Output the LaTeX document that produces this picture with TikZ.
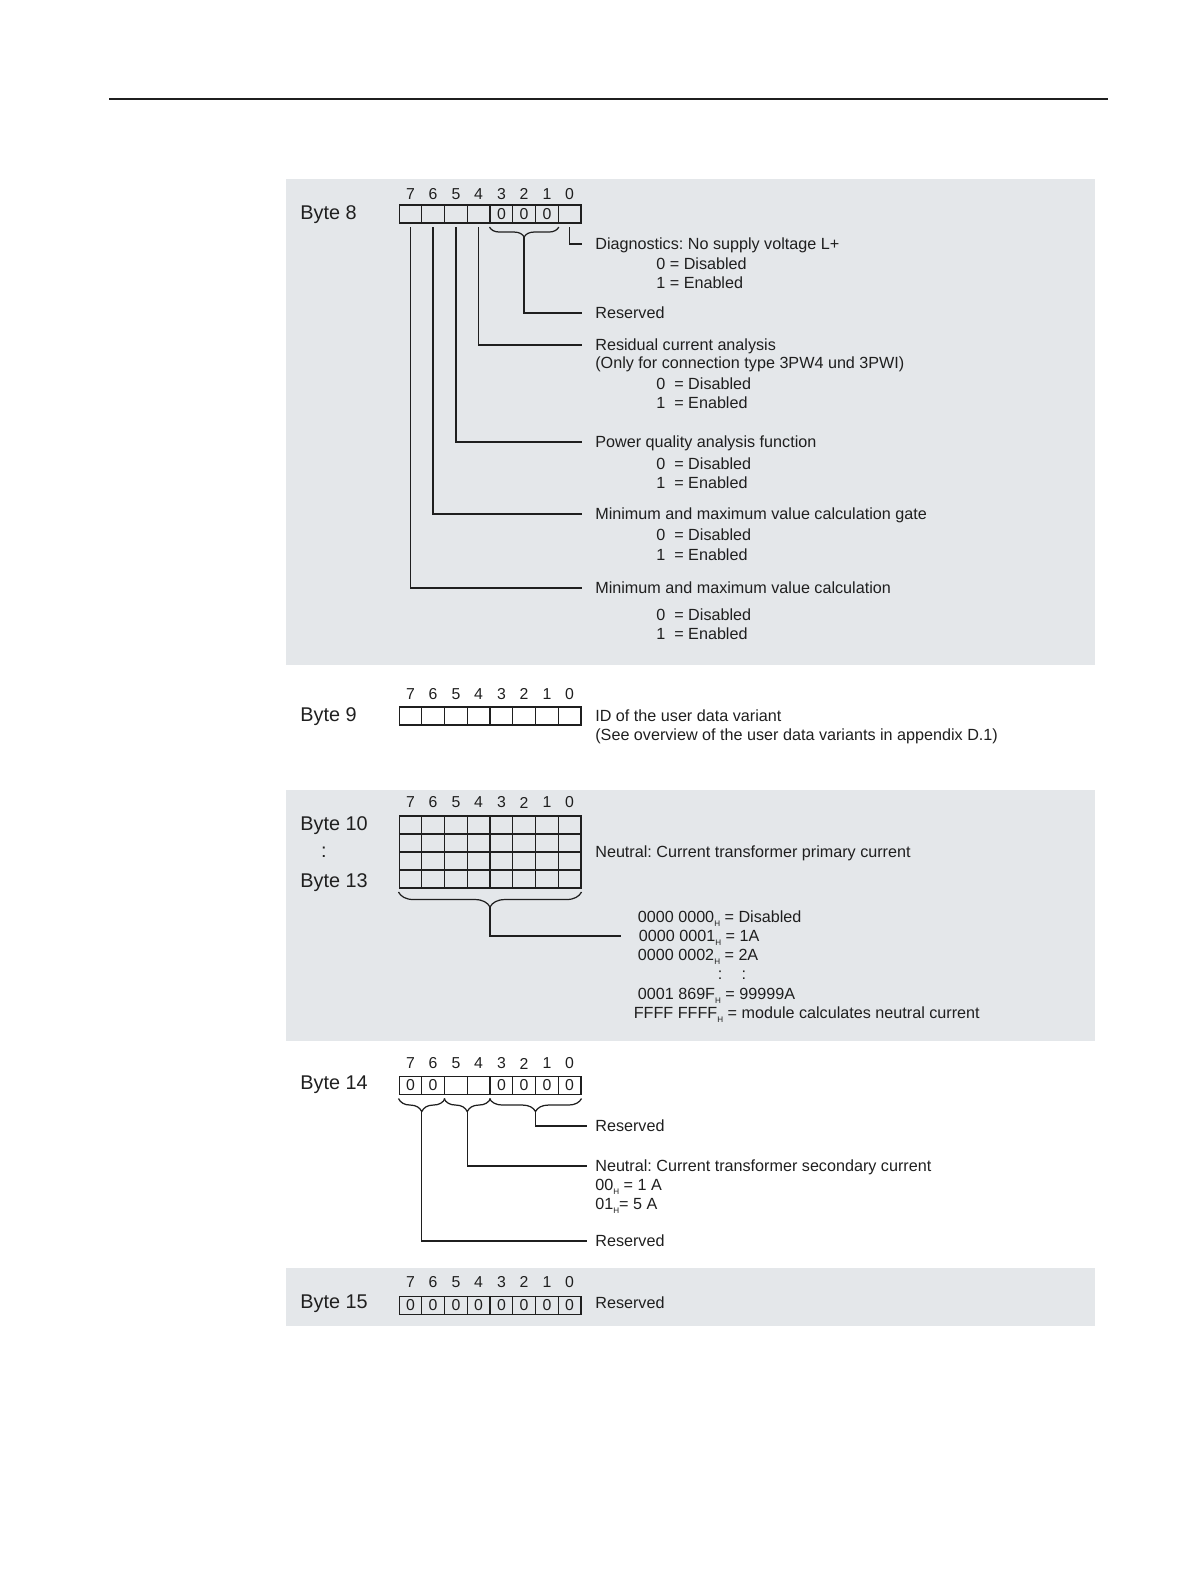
\documentclass[tikz,border=0pt]{standalone}
\usepackage{fontspec}
\setmainfont{Liberation Sans}
\usepackage{xcolor}
\usepackage{tikz}
\usetikzlibrary{decorations.pathreplacing}
\definecolor{panel}{RGB}{228,231,234}
\newcommand{\hexsub}{\raisebox{-2.2pt}{\fontsize{4.6}{5}\selectfont H}}
\frenchspacing

\begin{document}
\begin{tikzpicture}[x=0.02cm, y=-0.02cm, color=black!88,
  cell/.style={draw, line width=0.6pt, minimum width=0.455cm, minimum height=0.36cm, inner sep=0pt, font=\fontsize{9}{10}\selectfont},
  bitno/.style={inner sep=0pt, font=\fontsize{9}{10}\selectfont},
  bytelbl/.style={anchor=west, inner sep=0pt, text height=8.1pt, text depth=0pt, font=\fontsize{11.3}{13}\selectfont},
  txt/.style={anchor=west, inner sep=0pt, text height=6.6pt, text depth=0pt, font=\fontsize{9.2}{11}\selectfont},
  wire/.style={line width=0.85pt},
  brc/.style={line width=0.7pt, decorate, decoration={brace, mirror, amplitude=#1}}, brc/.default=0.2cm]
  \useasboundingbox (0,0) rectangle (1191,1587);
  \draw[line width=0.6pt] (109,99) -- (1108,99);
  \fill[panel] (286,179) rectangle (1095,665);
  \fill[panel] (286,790) rectangle (1095,1041);
  \fill[panel] (286,1268) rectangle (1095,1326);
  \node[bytelbl] (byte8) at (300,212.5) {Byte 8};
  \node[bitno] (b8n7) at (410.4,194) {7};
  \node[bitno] (b8n6) at (433.1,194) {6};
  \node[bitno] (b8n5) at (455.9,194) {5};
  \node[bitno] (b8n4) at (478.6,194) {4};
  \node[bitno] (b8n3) at (501.4,194) {3};
  \node[bitno] (b8n2) at (524.1,194) {2};
  \node[bitno] (b8n1) at (546.9,194) {1};
  \node[bitno] (b8n0) at (569.6,194) {0};
  \node[cell] (b8c7) at (410.4,214) {};
  \node[cell] (b8c6) at (433.1,214) {};
  \node[cell] (b8c5) at (455.9,214) {};
  \node[cell] (b8c4) at (478.6,214) {};
  \node[cell] (b8c3) at (501.4,214) {0};
  \node[cell] (b8c2) at (524.1,214) {0};
  \node[cell] (b8c1) at (546.9,214) {0};
  \node[cell] (b8c0) at (569.6,214) {};
  \node[txt] (diag) at (595,244) {Diagnostics: No supply voltage L+};
  \node[txt] (diag0) at (656,264) {0 = Disabled};
  \node[txt] (diag1) at (656,283) {1 = Enabled};
  \node[txt] (res8) at (595,313) {Reserved};
  \node[txt] (rca) at (595,345) {Residual current analysis};
  \node[txt] (rcanote) at (595,363) {(Only for connection type 3PW4 und 3PWI)};
  \node[txt] (rca0) at (656,384) {0~~= Disabled};
  \node[txt] (rca1) at (656,403) {1~~= Enabled};
  \node[txt] (pqa) at (595,442) {Power quality analysis function};
  \node[txt] (pqa0) at (656,463.5) {0~~= Disabled};
  \node[txt] (pqa1) at (656,483) {1~~= Enabled};
  \node[txt] (gate) at (595,514) {Minimum and maximum value calculation gate};
  \node[txt] (gate0) at (656,535) {0~~= Disabled};
  \node[txt] (gate1) at (656,555) {1~~= Enabled};
  \node[txt] (minmax) at (595,588) {Minimum and maximum value calculation};
  \node[txt] (minmax0) at (656,615) {0~~= Disabled};
  \node[txt] (minmax1) at (656,634) {1~~= Enabled};
  \draw[brc] ([yshift=-2pt]b8c3.south west) -- ([yshift=-2pt]b8c1.south east);
  \coordinate (b8br) at (524.1,237);
  \draw[wire, shorten <=2pt, shorten >=0.26cm] (b8c0.south) |- (diag.west);
  \draw[wire, shorten >=0.26cm] (b8br) |- (res8.west);
  \draw[wire, shorten <=2pt, shorten >=0.26cm] (b8c4.south) |- (rca.west);
  \draw[wire, shorten <=2pt, shorten >=0.26cm] (b8c5.south) |- (pqa.west);
  \draw[wire, shorten <=2pt, shorten >=0.26cm] (b8c6.south) |- (gate.west);
  \draw[wire, shorten <=2pt, shorten >=0.26cm] (b8c7.south) |- (minmax.west);
  \node[bytelbl] (byte9) at (300,714.5) {Byte 9};
  \node[bitno] (b9n7) at (410.4,694) {7};
  \node[bitno] (b9n6) at (433.1,694) {6};
  \node[bitno] (b9n5) at (455.9,694) {5};
  \node[bitno] (b9n4) at (478.6,694) {4};
  \node[bitno] (b9n3) at (501.4,694) {3};
  \node[bitno] (b9n2) at (524.1,694) {2};
  \node[bitno] (b9n1) at (546.9,694) {1};
  \node[bitno] (b9n0) at (569.6,694) {0};
  \node[cell] (b9c7) at (410.4,716) {};
  \node[cell] (b9c6) at (433.1,716) {};
  \node[cell] (b9c5) at (455.9,716) {};
  \node[cell] (b9c4) at (478.6,716) {};
  \node[cell] (b9c3) at (501.4,716) {};
  \node[cell] (b9c2) at (524.1,716) {};
  \node[cell] (b9c1) at (546.9,716) {};
  \node[cell] (b9c0) at (569.6,716) {};
  \node[txt] (udv) at (595,715.5) {ID of the user data variant};
  \node[txt] (udvnote) at (595,735) {(See overview of the user data variants in appendix D.1)};
  \node[bytelbl] (byte10) at (300,823) {Byte 10};
  \node[bytelbl, anchor=center] (byte11) at (324,850) {:};
  \node[bytelbl] (byte13) at (300,880) {Byte 13};
  \node[bitno] (b10n7) at (410.4,802.5) {7};
  \node[bitno] (b10n6) at (433.1,802.5) {6};
  \node[bitno] (b10n5) at (455.9,802.5) {5};
  \node[bitno] (b10n4) at (478.6,802.5) {4};
  \node[bitno] (b10n3) at (501.4,802.5) {3};
  \node[bitno] (b10n2) at (524.1,802.5) {2};
  \node[bitno] (b10n1) at (546.9,802.5) {1};
  \node[bitno] (b10n0) at (569.6,802.5) {0};
  \node[cell] (b10r1c7) at (410.4,825) {};
  \node[cell] (b10r1c6) at (433.1,825) {};
  \node[cell] (b10r1c5) at (455.9,825) {};
  \node[cell] (b10r1c4) at (478.6,825) {};
  \node[cell] (b10r1c3) at (501.4,825) {};
  \node[cell] (b10r1c2) at (524.1,825) {};
  \node[cell] (b10r1c1) at (546.9,825) {};
  \node[cell] (b10r1c0) at (569.6,825) {};
  \node[cell] (b10r2c7) at (410.4,843) {};
  \node[cell] (b10r2c6) at (433.1,843) {};
  \node[cell] (b10r2c5) at (455.9,843) {};
  \node[cell] (b10r2c4) at (478.6,843) {};
  \node[cell] (b10r2c3) at (501.4,843) {};
  \node[cell] (b10r2c2) at (524.1,843) {};
  \node[cell] (b10r2c1) at (546.9,843) {};
  \node[cell] (b10r2c0) at (569.6,843) {};
  \node[cell] (b10r3c7) at (410.4,861) {};
  \node[cell] (b10r3c6) at (433.1,861) {};
  \node[cell] (b10r3c5) at (455.9,861) {};
  \node[cell] (b10r3c4) at (478.6,861) {};
  \node[cell] (b10r3c3) at (501.4,861) {};
  \node[cell] (b10r3c2) at (524.1,861) {};
  \node[cell] (b10r3c1) at (546.9,861) {};
  \node[cell] (b10r3c0) at (569.6,861) {};
  \node[cell] (b10r4c7) at (410.4,879) {};
  \node[cell] (b10r4c6) at (433.1,879) {};
  \node[cell] (b10r4c5) at (455.9,879) {};
  \node[cell] (b10r4c4) at (478.6,879) {};
  \node[cell] (b10r4c3) at (501.4,879) {};
  \node[cell] (b10r4c2) at (524.1,879) {};
  \node[cell] (b10r4c1) at (546.9,879) {};
  \node[cell] (b10r4c0) at (569.6,879) {};
  \node[txt] (primary) at (595,852) {Neutral: Current transformer primary current};
  \node[txt] (v0) at (637.5,917) {0000 0000\hexsub{} = Disabled};
  \node[txt] (v1) at (638.6,936) {0000 0001\hexsub{} = 1A};
  \node[txt] (v2) at (637.5,955) {0000 0002\hexsub{} = 2A};
  \node[txt, anchor=center] (vdots) at (732,974) {:\hspace{11pt}:};
  \node[txt] (v3) at (637.5,994) {0001 869F\hexsub{} = 99999A};
  \node[txt] (v4) at (633.5,1013) {FFFF FFFF\hexsub{} = module calculates neutral current};
  \draw[brc=0.3cm] ([yshift=-2pt]b10r4c7.south west) -- ([yshift=-2pt]b10r4c0.south east);
  \coordinate (b10br) at (490,906);
  \draw[wire, shorten >=0.35cm] (b10br) |- (v1.west);
  \node[bytelbl] (byte14) at (300,1082) {Byte 14};
  \node[bitno] (b14n7) at (410.4,1063.5) {7};
  \node[bitno] (b14n6) at (433.1,1063.5) {6};
  \node[bitno] (b14n5) at (455.9,1063.5) {5};
  \node[bitno] (b14n4) at (478.6,1063.5) {4};
  \node[bitno] (b14n3) at (501.4,1063.5) {3};
  \node[bitno] (b14n2) at (524.1,1063.5) {2};
  \node[bitno] (b14n1) at (546.9,1063.5) {1};
  \node[bitno] (b14n0) at (569.6,1063.5) {0};
  \node[cell] (b14c7) at (410.4,1085.5) {0};
  \node[cell] (b14c6) at (433.1,1085.5) {0};
  \node[cell] (b14c5) at (455.9,1085.5) {};
  \node[cell] (b14c4) at (478.6,1085.5) {};
  \node[cell] (b14c3) at (501.4,1085.5) {0};
  \node[cell] (b14c2) at (524.1,1085.5) {0};
  \node[cell] (b14c1) at (546.9,1085.5) {0};
  \node[cell] (b14c0) at (569.6,1085.5) {0};
  \node[txt] (res14lo) at (595,1126) {Reserved};
  \node[txt] (secondary) at (595,1166) {Neutral: Current transformer secondary current};
  \node[txt] (sec1a) at (595,1185) {00\hexsub{} = 1 A};
  \node[txt] (sec5a) at (595,1204) {01\hexsub{}= 5 A};
  \node[txt] (res14hi) at (595,1241) {Reserved};
  \draw[brc=0.26cm] ([yshift=-2pt]b14c7.south west) -- ([yshift=-2pt]b14c6.south east);
  \draw[brc=0.26cm] ([yshift=-2pt]b14c5.south west) -- ([yshift=-2pt]b14c4.south east);
  \draw[brc=0.26cm] ([yshift=-2pt]b14c3.south west) -- ([yshift=-2pt]b14c0.south east);
  \coordinate (b14hi) at (421.75,1110);
  \coordinate (b14mid) at (467.25,1110);
  \coordinate (b14lo) at (535.5,1110);
  \draw[wire, shorten >=0.16cm] (b14lo) |- (res14lo.west);
  \draw[wire, shorten >=0.16cm] (b14mid) |- (secondary.west);
  \draw[wire, shorten >=0.16cm] (b14hi) |- (res14hi.west);
  \node[bytelbl] (byte15) at (300,1301) {Byte 15};
  \node[bitno] (b15n7) at (410.4,1282) {7};
  \node[bitno] (b15n6) at (433.1,1282) {6};
  \node[bitno] (b15n5) at (455.9,1282) {5};
  \node[bitno] (b15n4) at (478.6,1282) {4};
  \node[bitno] (b15n3) at (501.4,1282) {3};
  \node[bitno] (b15n2) at (524.1,1282) {2};
  \node[bitno] (b15n1) at (546.9,1282) {1};
  \node[bitno] (b15n0) at (569.6,1282) {0};
  \node[cell] (b15c7) at (410.4,1305.5) {0};
  \node[cell] (b15c6) at (433.1,1305.5) {0};
  \node[cell] (b15c5) at (455.9,1305.5) {0};
  \node[cell] (b15c4) at (478.6,1305.5) {0};
  \node[cell] (b15c3) at (501.4,1305.5) {0};
  \node[cell] (b15c2) at (524.1,1305.5) {0};
  \node[cell] (b15c1) at (546.9,1305.5) {0};
  \node[cell] (b15c0) at (569.6,1305.5) {0};
  \node[txt] (res15) at (595,1303) {Reserved};
\end{tikzpicture}
\end{document}
